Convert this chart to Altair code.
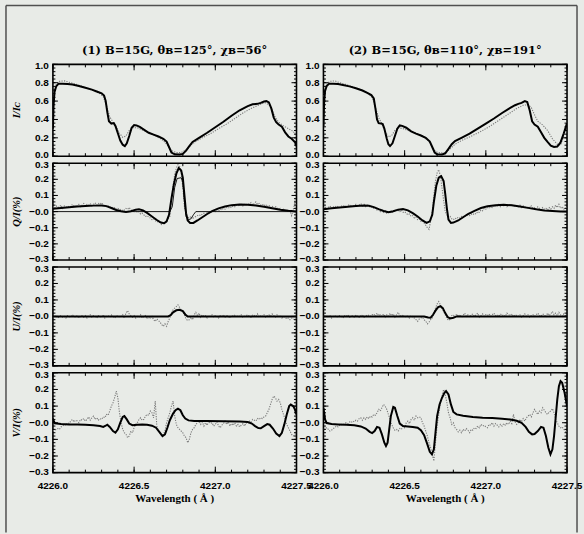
import altair as alt
import pandas as pd

# ---------------- data ----------------
X_TICKS = [4226.0, 4226.5, 4227.0, 4227.5]
X_MINOR = [round(4226.0 + 0.1 * i, 1) for i in range(16)]
I_TICKS = [0.0, 0.2, 0.4, 0.6, 0.8, 1.0]
I_MINOR = [round(0.04 * i, 2) for i in range(26)]
P_TICKS = [-0.3, -0.2, -0.1, 0.0, 0.1, 0.2, 0.3]
P_MINOR = [round(-0.3 + 0.02 * i, 2) for i in range(31)]
I_LABELS = ["0.0", "0.2", "0.4", "0.6", "0.8", "1.0"]
P_LABELS = ["\u22120.3", "\u22120.2", "\u22120.1", "\u22120.0", "0.1", "0.2", "0.3"]
X_LABELS = ["4226.0", "4226.5", "4227.0", "4227.5"]

TITLES = ["(1) B=15G, \u03b8\u0299=125\u00b0, \u03c7\u0299=56\u00b0",
          "(2) B=15G, \u03b8\u0299=110\u00b0, \u03c7\u0299=191\u00b0"]
YTITLES = ["I/I\u1d04", "Q/I(%)", "U/I(%)", "V/I(%)"]
XTITLE = "Wavelength ( \u00c5 )"
OBS_START = 4226.0
OBS_STEP = 0.01

# model (solid) curves: (wavelength, value)
I_L_MODEL = [(4226.000, 0.30), (4226.004, 0.55), (4226.010, 0.70), (4226.020, 0.76), (4226.035, 0.79),
             (4226.06, 0.79), (4226.09, 0.785), (4226.12, 0.78), (4226.16, 0.765), (4226.20, 0.745),
             (4226.24, 0.725), (4226.27, 0.705), (4226.30, 0.685), (4226.315, 0.66), (4226.325, 0.60),
             (4226.335, 0.48), (4226.345, 0.38), (4226.36, 0.355), (4226.375, 0.36), (4226.385, 0.33),
             (4226.40, 0.25), (4226.415, 0.17), (4226.43, 0.125), (4226.443, 0.11), (4226.455, 0.14),
             (4226.47, 0.22), (4226.485, 0.31), (4226.50, 0.34), (4226.515, 0.335), (4226.535, 0.32),
             (4226.56, 0.29), (4226.59, 0.255), (4226.62, 0.235), (4226.65, 0.215), (4226.68, 0.19),
             (4226.70, 0.16), (4226.715, 0.10), (4226.73, 0.04), (4226.75, 0.02), (4226.78, 0.018),
             (4226.80, 0.025), (4226.82, 0.06), (4226.84, 0.11), (4226.86, 0.155), (4226.90, 0.20),
             (4226.95, 0.255), (4227.00, 0.315), (4227.05, 0.375), (4227.10, 0.44), (4227.15, 0.50),
             (4227.20, 0.545), (4227.23, 0.565), (4227.26, 0.57), (4227.28, 0.58), (4227.30, 0.595),
             (4227.315, 0.60), (4227.33, 0.585), (4227.345, 0.52), (4227.36, 0.42), (4227.375, 0.37),
             (4227.39, 0.345), (4227.41, 0.32), (4227.43, 0.26), (4227.45, 0.215), (4227.47, 0.19),
             (4227.49, 0.155), (4227.50, 0.11)]
I_L_OBS = [(4226.00, 0.64), (4226.01, 0.72), (4226.02, 0.78), (4226.04, 0.815), (4226.07, 0.82),
           (4226.10, 0.805), (4226.14, 0.785), (4226.18, 0.76), (4226.22, 0.735), (4226.26, 0.705),
           (4226.29, 0.68), (4226.31, 0.65), (4226.33, 0.55), (4226.35, 0.43), (4226.37, 0.37),
           (4226.39, 0.32), (4226.41, 0.25), (4226.43, 0.205), (4226.45, 0.22), (4226.47, 0.28),
           (4226.49, 0.31), (4226.52, 0.31), (4226.56, 0.28), (4226.60, 0.25), (4226.64, 0.215),
           (4226.68, 0.17), (4226.71, 0.11), (4226.73, 0.06), (4226.76, 0.04), (4226.79, 0.04),
           (4226.82, 0.07), (4226.85, 0.12), (4226.88, 0.16), (4226.92, 0.20), (4226.97, 0.245),
           (4227.02, 0.30), (4227.07, 0.35), (4227.12, 0.41), (4227.17, 0.47), (4227.22, 0.52),
           (4227.26, 0.55), (4227.29, 0.575), (4227.31, 0.58), (4227.33, 0.56), (4227.35, 0.50),
           (4227.37, 0.42), (4227.39, 0.37), (4227.42, 0.33), (4227.45, 0.30), (4227.48, 0.27),
           (4227.50, 0.22)]
I_R_MODEL = [(4226.000, 0.33), (4226.004, 0.58), (4226.010, 0.71), (4226.020, 0.765), (4226.035, 0.79),
             (4226.06, 0.79), (4226.09, 0.785), (4226.12, 0.775), (4226.16, 0.76), (4226.20, 0.74),
             (4226.24, 0.715), (4226.27, 0.69), (4226.295, 0.665), (4226.31, 0.63), (4226.32, 0.52),
             (4226.33, 0.40), (4226.34, 0.36), (4226.355, 0.355), (4226.365, 0.35), (4226.375, 0.30),
             (4226.39, 0.19), (4226.40, 0.13), (4226.41, 0.11), (4226.425, 0.14), (4226.44, 0.22),
             (4226.455, 0.30), (4226.47, 0.335), (4226.485, 0.33), (4226.51, 0.31), (4226.54, 0.27),
             (4226.57, 0.245), (4226.60, 0.225), (4226.63, 0.20), (4226.655, 0.16), (4226.67, 0.10),
             (4226.685, 0.04), (4226.70, 0.02), (4226.73, 0.018), (4226.75, 0.03), (4226.77, 0.08),
             (4226.79, 0.13), (4226.81, 0.165), (4226.85, 0.20), (4226.90, 0.245), (4226.95, 0.30),
             (4227.00, 0.355), (4227.05, 0.41), (4227.10, 0.47), (4227.15, 0.525), (4227.18, 0.555),
             (4227.20, 0.57), (4227.22, 0.58), (4227.24, 0.60), (4227.255, 0.59), (4227.27, 0.50),
             (4227.285, 0.38), (4227.30, 0.345), (4227.32, 0.32), (4227.34, 0.26), (4227.36, 0.20),
             (4227.38, 0.155), (4227.40, 0.115), (4227.42, 0.10), (4227.44, 0.105), (4227.46, 0.15),
             (4227.48, 0.25), (4227.50, 0.36)]
I_R_OBS = [(4226.00, 0.65), (4226.01, 0.73), (4226.02, 0.785), (4226.04, 0.815), (4226.07, 0.82),
           (4226.10, 0.80), (4226.14, 0.78), (4226.18, 0.755), (4226.22, 0.73), (4226.26, 0.70),
           (4226.28, 0.675), (4226.30, 0.64), (4226.32, 0.53), (4226.34, 0.42), (4226.36, 0.35),
           (4226.38, 0.27), (4226.40, 0.21), (4226.42, 0.225), (4226.44, 0.28), (4226.46, 0.31),
           (4226.49, 0.30), (4226.53, 0.275), (4226.57, 0.25), (4226.61, 0.22), (4226.645, 0.17),
           (4226.67, 0.10), (4226.69, 0.05), (4226.72, 0.035), (4226.75, 0.04), (4226.78, 0.08),
           (4226.81, 0.13), (4226.85, 0.17), (4226.90, 0.21), (4226.96, 0.26), (4227.02, 0.32),
           (4227.08, 0.39), (4227.14, 0.46), (4227.19, 0.52), (4227.23, 0.555), (4227.26, 0.56),
           (4227.28, 0.53), (4227.30, 0.45), (4227.32, 0.38), (4227.35, 0.34), (4227.38, 0.28),
           (4227.41, 0.19), (4227.44, 0.13), (4227.46, 0.12), (4227.48, 0.22), (4227.50, 0.37)]

Q_L_MODEL = [(4226.00, 0.018), (4226.05, 0.022), (4226.10, 0.027), (4226.15, 0.031), (4226.20, 0.034),
             (4226.25, 0.037), (4226.30, 0.038), (4226.33, 0.034), (4226.36, 0.022), (4226.39, 0.010),
             (4226.42, 0.002), (4226.45, -0.002), (4226.48, 0.002), (4226.51, 0.012), (4226.53, 0.015),
             (4226.555, 0.008), (4226.58, -0.008), (4226.61, -0.03), (4226.64, -0.052), (4226.665, -0.068),
             (4226.685, -0.072), (4226.70, -0.06), (4226.715, -0.02), (4226.73, 0.08), (4226.745, 0.17),
             (4226.76, 0.235), (4226.775, 0.27), (4226.79, 0.255), (4226.80, 0.21), (4226.81, 0.10),
             (4226.82, -0.01), (4226.83, -0.055), (4226.845, -0.07), (4226.865, -0.07), (4226.89, -0.055),
             (4226.92, -0.035), (4226.95, -0.015), (4226.98, 0.003), (4227.02, 0.02), (4227.06, 0.032),
             (4227.10, 0.04), (4227.15, 0.044), (4227.20, 0.043), (4227.25, 0.038), (4227.30, 0.03),
             (4227.35, 0.021), (4227.40, 0.012), (4227.45, 0.005), (4227.50, 0.0)]
Q_L_MODEL2 = [(4226.00, 0.0), (4226.72, 0.0), (4226.735, 0.03), (4226.75, 0.15), (4226.765, 0.205),
              (4226.79, 0.21), (4226.80, 0.18), (4226.81, 0.06), (4226.82, -0.03), (4226.835, -0.05),
              (4226.85, -0.045), (4226.865, -0.02), (4226.88, 0.0), (4227.50, 0.0)]
Q_R_MODEL = [(4226.00, 0.015), (4226.05, 0.02), (4226.10, 0.025), (4226.15, 0.03), (4226.20, 0.034),
             (4226.25, 0.037), (4226.28, 0.036), (4226.31, 0.028), (4226.34, 0.015), (4226.37, 0.004),
             (4226.40, -0.004), (4226.43, 0.002), (4226.46, 0.012), (4226.49, 0.016), (4226.52, 0.008),
             (4226.55, -0.01), (4226.58, -0.03), (4226.61, -0.055), (4226.635, -0.07), (4226.655, -0.06),
             (4226.67, -0.02), (4226.68, 0.06), (4226.695, 0.16), (4226.71, 0.21), (4226.725, 0.22),
             (4226.74, 0.19), (4226.75, 0.11), (4226.76, 0.02), (4226.77, -0.05), (4226.785, -0.07),
             (4226.80, -0.068), (4226.83, -0.055), (4226.86, -0.035), (4226.89, -0.015), (4226.93, 0.005),
             (4226.97, 0.022), (4227.01, 0.033), (4227.06, 0.04), (4227.11, 0.042), (4227.16, 0.039),
             (4227.21, 0.032), (4227.26, 0.023), (4227.31, 0.014), (4227.36, 0.007), (4227.41, 0.003),
             (4227.46, 0.0), (4227.50, 0.0)]

U_L_MODEL = [(4226.00, 0.0), (4226.71, 0.0), (4226.725, 0.008), (4226.74, 0.025), (4226.76, 0.037),
             (4226.78, 0.04), (4226.80, 0.032), (4226.815, 0.012), (4226.83, 0.0), (4227.50, 0.0)]
U_R_MODEL = [(4226.00, 0.0), (4226.62, 0.0), (4226.645, -0.006), (4226.66, -0.008), (4226.675, 0.01),
             (4226.69, 0.035), (4226.705, 0.055), (4226.72, 0.062), (4226.735, 0.05), (4226.75, 0.02),
             (4226.765, -0.004), (4226.78, -0.012), (4226.80, -0.008), (4226.82, 0.0), (4227.50, 0.0)]

V_L_MODEL = [(4226.00, 0.025), (4226.005, 0.01), (4226.012, -0.003), (4226.05, -0.008), (4226.10, -0.01),
             (4226.15, -0.01), (4226.20, -0.012), (4226.25, -0.015), (4226.29, -0.02), (4226.31, -0.025),
             (4226.325, -0.018), (4226.335, -0.012), (4226.35, -0.025), (4226.37, -0.05), (4226.385, -0.06),
             (4226.40, -0.04), (4226.415, 0.0), (4226.43, 0.035), (4226.44, 0.04), (4226.455, 0.02),
             (4226.47, -0.005), (4226.49, -0.015), (4226.52, -0.012), (4226.55, -0.01), (4226.58, -0.012),
             (4226.61, -0.018), (4226.635, -0.03), (4226.655, -0.055), (4226.675, -0.08), (4226.69, -0.07),
             (4226.705, -0.03), (4226.72, 0.015), (4226.74, 0.055), (4226.755, 0.075), (4226.77, 0.085),
             (4226.785, 0.075), (4226.80, 0.045), (4226.815, 0.025), (4226.835, 0.014), (4226.87, 0.01),
             (4226.95, 0.01), (4227.05, 0.009), (4227.15, 0.007), (4227.20, 0.004), (4227.225, -0.005),
             (4227.245, -0.02), (4227.265, -0.032), (4227.28, -0.033), (4227.30, -0.02), (4227.32, -0.008),
             (4227.335, -0.012), (4227.355, -0.035), (4227.375, -0.065), (4227.395, -0.08), (4227.41, -0.06),
             (4227.425, -0.01), (4227.44, 0.05), (4227.455, 0.10), (4227.465, 0.11), (4227.48, 0.10),
             (4227.49, 0.08), (4227.50, 0.05)]
V_R_MODEL = [(4226.00, 0.09), (4226.004, 0.06), (4226.01, 0.02), (4226.02, -0.002), (4226.05, -0.008),
             (4226.09, -0.01), (4226.14, -0.012), (4226.19, -0.015), (4226.23, -0.022), (4226.26, -0.035),
             (4226.285, -0.055), (4226.30, -0.062), (4226.315, -0.05), (4226.33, -0.025), (4226.345, -0.03),
             (4226.36, -0.07), (4226.375, -0.12), (4226.385, -0.14), (4226.395, -0.12), (4226.405, -0.04),
             (4226.415, 0.04), (4226.43, 0.095), (4226.44, 0.09), (4226.455, 0.04), (4226.47, -0.005),
             (4226.49, -0.02), (4226.52, -0.022), (4226.55, -0.025), (4226.58, -0.03), (4226.60, -0.045),
             (4226.62, -0.075), (4226.64, -0.13), (4226.655, -0.175), (4226.668, -0.19), (4226.68, -0.16),
             (4226.69, -0.06), (4226.70, 0.04), (4226.715, 0.11), (4226.73, 0.15), (4226.745, 0.18),
             (4226.755, 0.19), (4226.77, 0.17), (4226.785, 0.11), (4226.80, 0.065), (4226.82, 0.05),
             (4226.86, 0.042), (4226.92, 0.035), (4226.98, 0.03), (4227.04, 0.028), (4227.10, 0.024),
             (4227.15, 0.02), (4227.19, 0.012), (4227.22, 0.0), (4227.245, -0.025), (4227.265, -0.055),
             (4227.285, -0.07), (4227.30, -0.068), (4227.32, -0.05), (4227.34, -0.025), (4227.355, -0.03),
             (4227.37, -0.08), (4227.385, -0.15), (4227.398, -0.19), (4227.41, -0.16), (4227.42, -0.08),
             (4227.43, 0.03), (4227.44, 0.14), (4227.45, 0.22), (4227.46, 0.25), (4227.47, 0.24),
             (4227.485, 0.18), (4227.50, 0.10)]

# observed (dotted) polarisation profiles, sampled every 0.01 A from 4226.00 A
Q_L_OBS = [0.03, 0.02, 0.035, 0.025, 0.03, 0.04, 0.02, 0.035, 0.03, 0.025,
           0.035, 0.03, 0.045, 0.03, 0.04, 0.035, 0.045, 0.03, 0.04, 0.05,
           0.035, 0.045, 0.04, 0.05, 0.035, 0.045, 0.055, 0.04, 0.05, 0.045,
           0.055, 0.04, 0.035, 0.03, 0.035, 0.025, 0.03, 0.02, 0.025, 0.015,
           0.02, 0.01, 0.015, 0.005, 0.01, 0.02, 0.015, 0.025, 0.01, 0.005,
           0.0, 0.01, -0.005, 0.0, -0.015, -0.01, -0.02, -0.03, -0.025, -0.035,
           -0.04, -0.05, -0.045, -0.055, -0.065, -0.06, -0.07, -0.08, -0.075, -0.07,
           -0.065, -0.045, -0.03, 0.06, 0.16, 0.23, 0.27, 0.29, 0.28, 0.24,
           0.15, 0.03, -0.02, -0.035, -0.04, -0.03, -0.045, -0.035, -0.03, -0.025,
           -0.02, -0.025, -0.015, -0.01, -0.02, -0.005, -0.01, 0.0, -0.005, 0.005,
           0.0, 0.01, 0.005, 0.015, 0.01, 0.02, 0.015, 0.025, 0.02, 0.03,
           0.025, 0.035, 0.03, 0.04, 0.035, 0.04, 0.045, 0.035, 0.045, 0.04,
           0.05, 0.045, 0.055, 0.04, 0.05, 0.06, 0.045, 0.05, 0.04, 0.045,
           0.035, 0.045, 0.03, 0.04, 0.025, 0.035, 0.02, 0.03, 0.025, 0.015,
           0.02, 0.01, 0.015, 0.005, 0.01, 0.0, 0.005, -0.025, 0.01, 0.06, 0.035]
Q_R_OBS = [0.02, 0.03, 0.015, 0.025, 0.035, 0.02, 0.03, 0.025, 0.035, 0.03,
           0.025, 0.035, 0.03, 0.04, 0.025, 0.035, 0.045, 0.03, 0.04, 0.035,
           0.045, 0.035, 0.04, 0.05, 0.035, 0.045, 0.03, 0.04, 0.035, 0.025,
           0.03, 0.02, 0.025, 0.01, 0.015, 0.0, 0.01, -0.005, 0.005, -0.01,
           -0.005, 0.0, -0.01, 0.005, 0.0, 0.01, 0.005, 0.0, 0.01, -0.005,
           0.0, -0.01, -0.02, -0.015, -0.03, -0.025, -0.04, -0.035, -0.05, -0.045,
           -0.06, -0.055, -0.07, -0.085, -0.1, -0.11, -0.06, 0.0, 0.1, 0.19,
           0.24, 0.26, 0.22, 0.15, 0.07, 0.0, -0.02, -0.035, -0.03, -0.045,
           -0.05, -0.04, -0.045, -0.035, -0.04, -0.03, -0.035, -0.025, -0.03, -0.02,
           -0.025, -0.015, -0.02, -0.01, -0.015, 0.0, -0.005, 0.01, 0.005, 0.02,
           0.015, 0.025, 0.02, 0.03, 0.025, 0.04, 0.03, 0.035, 0.045, 0.03,
           0.04, 0.035, 0.045, 0.03, 0.04, 0.035, 0.045, 0.03, 0.04, 0.035,
           0.03, 0.04, 0.025, 0.035, 0.03, 0.02, 0.03, 0.025, 0.035, 0.02,
           0.025, 0.015, 0.03, 0.02, 0.01, 0.025, 0.015, 0.02, 0.01, 0.025,
           0.015, 0.03, 0.02, 0.04, 0.025, 0.045, 0.02, 0.03, 0.015, 0.025, 0.02]
U_L_OBS = [0.0, -0.005, 0.005, -0.01, 0.0, 0.005, -0.005, 0.0, -0.01, 0.005,
           0.0, -0.005, 0.01, 0.0, -0.005, 0.005, -0.01, 0.0, 0.005, -0.005,
           0.005, -0.01, 0.0, 0.01, -0.005, 0.005, 0.0, -0.01, 0.005, 0.0,
           -0.005, 0.01, -0.01, 0.0, 0.005, -0.005, 0.01, 0.0, -0.01, 0.0,
           0.005, -0.005, 0.0, 0.01, -0.01, 0.02, 0.035, 0.015, 0.005, -0.005,
           0.005, -0.01, 0.0, -0.005, 0.01, -0.01, 0.0, 0.005, -0.015, -0.005,
           -0.01, 0.0, -0.02, -0.03, -0.015, -0.025, -0.035, -0.05, -0.06, -0.045,
           -0.06, -0.03, -0.01, 0.02, 0.04, 0.05, 0.06, 0.07, 0.055, 0.04,
           0.03, 0.01, -0.015, -0.025, -0.02, -0.005, -0.02, 0.01, 0.025, 0.005,
           0.02, -0.005, 0.01, 0.0, 0.005, -0.01, 0.005, 0.0, 0.01, -0.005,
           0.005, 0.0, -0.01, 0.005, 0.0, 0.01, -0.005, 0.005, 0.0, -0.01,
           0.005, 0.0, 0.01, -0.005, 0.005, 0.0, 0.01, -0.005, 0.0, 0.005,
           0.01, 0.0, -0.005, 0.01, 0.005, 0.0, 0.015, -0.005, 0.005, 0.0,
           0.01, -0.005, 0.005, 0.01, 0.0, 0.015, 0.005, -0.005, 0.01, 0.0,
           0.005, -0.01, 0.0, -0.005, -0.015, -0.01, -0.02, -0.01, -0.015, -0.02, -0.01]
U_R_OBS = [0.0, 0.005, -0.005, 0.0, 0.005, -0.01, 0.0, 0.005, -0.005, 0.0,
           0.005, 0.0, -0.01, 0.005, 0.0, 0.01, -0.005, 0.0, 0.005, -0.005,
           0.01, 0.0, -0.005, 0.005, 0.01, -0.005, 0.0, 0.01, 0.005, 0.0,
           0.01, 0.015, 0.0, 0.02, 0.005, 0.01, 0.0, 0.015, -0.005, 0.01,
           0.0, 0.02, 0.005, 0.015, -0.005, 0.01, 0.025, 0.005, 0.0, 0.01,
           -0.005, 0.005, 0.0, -0.01, 0.005, -0.005, -0.01, -0.02, -0.03, -0.015,
           -0.01, -0.005, -0.02, -0.03, -0.045, -0.035, -0.02, -0.01, 0.02, 0.05,
           0.075, 0.09, 0.07, 0.05, 0.03, 0.01, -0.01, -0.025, -0.015, 0.005,
           0.01, -0.005, 0.015, 0.0, 0.01, -0.005, 0.005, 0.02, 0.0, 0.01,
           -0.005, 0.01, 0.015, 0.0, 0.01, 0.02, -0.005, 0.005, 0.015, 0.0,
           0.01, 0.005, 0.015, 0.0, 0.01, 0.02, 0.005, 0.01, 0.0, 0.015,
           0.005, 0.01, 0.0, 0.02, 0.01, 0.005, 0.015, 0.0, 0.01, 0.005,
           0.0, 0.01, -0.005, 0.005, 0.015, 0.0, 0.01, -0.005, 0.005, 0.01,
           0.0, 0.01, 0.02, 0.005, 0.0, 0.015, 0.01, -0.005, 0.02, 0.005,
           0.015, 0.03, 0.01, 0.02, 0.005, 0.025, 0.01, 0.0, 0.015, 0.005, 0.01]
V_L_OBS = [-0.05, -0.045, -0.04, -0.035, -0.04, -0.025, -0.02, -0.01, -0.015, 0.0,
           -0.005, 0.01, 0.02, 0.005, 0.015, 0.01, 0.0, 0.02, 0.015, 0.025,
           0.01, 0.02, 0.035, 0.015, 0.03, 0.04, 0.02, 0.03, 0.015, 0.025,
           0.02, 0.035, 0.03, 0.05, 0.045, 0.07, 0.1, 0.12, 0.15, 0.19,
           0.15, 0.06, 0.0, -0.04, -0.06, -0.07, -0.09, -0.08, -0.05, -0.06,
           -0.03, -0.01, 0.0, 0.02, 0.03, 0.015, 0.02, 0.04, 0.05, 0.045,
           0.07, 0.06, 0.03, 0.13, -0.02, -0.05, -0.06, -0.08, -0.07, -0.05,
           0.0, 0.03, 0.06, 0.1, 0.13, 0.04, -0.01, -0.03, -0.04, -0.05,
           -0.06, -0.08, -0.09, -0.12, -0.1, -0.06, -0.04, -0.03, -0.01, 0.0,
           0.01, -0.01, 0.005, -0.02, 0.0, -0.015, 0.01, -0.005, 0.0, -0.02,
           -0.01, 0.005, -0.02, -0.03, -0.015, -0.005, 0.01, -0.01, 0.005, -0.02,
           -0.005, -0.015, 0.0, -0.02, -0.01, -0.025, -0.015, -0.005, -0.02, 0.0,
           -0.005, 0.01, 0.0, 0.02, 0.015, 0.01, 0.025, 0.02, 0.03, 0.025,
           0.035, 0.04, 0.06, 0.08, 0.11, 0.14, 0.16, 0.15, 0.13, 0.14,
           0.12, 0.08, 0.05, 0.02, -0.01, -0.03, -0.05, -0.07, -0.08, -0.07, -0.06]
V_R_OBS = [-0.04, -0.035, -0.03, -0.04, -0.05, -0.045, -0.035, -0.03, -0.02, -0.025,
           -0.015, -0.01, -0.015, -0.005, 0.0, -0.005, 0.005, 0.0, 0.01, 0.005,
           0.015, 0.01, 0.025, 0.03, 0.015, 0.03, 0.02, 0.035, 0.025, 0.04,
           0.035, 0.05, 0.045, 0.06, 0.08, 0.07, 0.09, 0.11, 0.1, 0.08,
           0.05, 0.02, -0.01, -0.03, -0.045, -0.04, -0.05, -0.035, -0.04, -0.02,
           -0.03, 0.0, 0.01, -0.005, 0.02, 0.03, 0.015, 0.04, 0.03, 0.035,
           0.03, 0.0, -0.02, -0.05, -0.08, -0.12, -0.15, -0.19, -0.23, -0.12,
           -0.02, 0.05, 0.12, 0.16, 0.2, 0.17, 0.12, 0.06, 0.03, -0.01,
           0.0, -0.03, -0.04, -0.055, -0.045, -0.06, -0.04, -0.05, -0.035, -0.045,
           -0.06, -0.04, -0.045, -0.03, -0.035, -0.02, -0.03, -0.01, -0.02, -0.015,
           -0.025, -0.03, -0.01, -0.015, 0.0, -0.02, -0.005, -0.015, -0.025, -0.01,
           -0.02, -0.005, -0.015, 0.0, -0.01, 0.01, -0.005, 0.05, 0.005, -0.01,
           0.0, 0.02, 0.005, 0.025, 0.01, 0.03, 0.04, 0.05, 0.035, 0.06,
           0.08, 0.065, 0.05, 0.07, 0.06, 0.09, 0.075, 0.06, 0.05, 0.065,
           0.07, 0.085, 0.06, 0.02, 0.0, -0.02, -0.03, -0.025, -0.04, -0.05, -0.06]

# ---------------- layout / style ----------------
W = 244
HEIGHTS = [92, 97, 99, 100]
BG = "#e8ebe7"
SANS = "Liberation Sans"
SERIF = "Liberation Serif"
TITLE_FONT = "DejaVu Serif"
OBS_COLOR = "#7a7a7a"


def pairs_df(pairs):
    return pd.DataFrame({"wl": [p[0] for p in pairs], "v": [p[1] for p in pairs]})


def grid_df(vals):
    return pd.DataFrame({"wl": [round(OBS_START + OBS_STEP * i, 2) for i in range(len(vals))], "v": vals})


PANELS = {
    (0, 0): [("obs", pairs_df(I_L_OBS)), ("model", pairs_df(I_L_MODEL))],
    (0, 1): [("obs", pairs_df(I_R_OBS)), ("model", pairs_df(I_R_MODEL))],
    (1, 0): [("obs", grid_df(Q_L_OBS)), ("thin", pairs_df(Q_L_MODEL2)), ("model", pairs_df(Q_L_MODEL))],
    (1, 1): [("obs", grid_df(Q_R_OBS)), ("model", pairs_df(Q_R_MODEL))],
    (2, 0): [("obs", grid_df(U_L_OBS)), ("model", pairs_df(U_L_MODEL))],
    (2, 1): [("obs", grid_df(U_R_OBS)), ("model", pairs_df(U_R_MODEL))],
    (3, 0): [("obs", grid_df(V_L_OBS)), ("model", pairs_df(V_L_MODEL))],
    (3, 1): [("obs", grid_df(V_R_OBS)), ("model", pairs_df(V_R_MODEL))],
}
ONE = pd.DataFrame({"a": [0]})


def make_panel(row, col):
    h = HEIGHTS[row]
    if row == 0:
        ydom, ymaj, ymin, ylabs = [0.0, 1.0], I_TICKS, I_MINOR, I_LABELS
    else:
        ydom, ymaj, ymin, ylabs = [-0.3, 0.3], P_TICKS, P_MINOR, P_LABELS
    xs = alt.Scale(domain=[X_TICKS[0], X_TICKS[-1]], nice=False, zero=False)
    ys = alt.Scale(domain=ydom, nice=False, zero=False)

    layers = []
    for kind, df in PANELS[(row, col)]:
        if kind == "obs":
            mk = alt.Chart(df).mark_line(clip=True, color=OBS_COLOR, strokeWidth=1.1,
                                         strokeDash=[1.2, 1.3])
        elif kind == "thin":
            mk = alt.Chart(df).mark_line(clip=True, color="black", strokeWidth=0.9)
        else:
            mk = alt.Chart(df).mark_line(clip=True, color="black", strokeWidth=2)
        layers.append(mk.encode(x=alt.X("wl:Q", scale=xs, axis=None),
                                y=alt.Y("v:Q", scale=ys, axis=None)))

    # inward IDL-style ticks on all four sides
    for vals, ln in ((ymaj, 5), (ymin, 2.5)):
        d = pd.DataFrame({"t": vals})
        layers.append(alt.Chart(d).mark_rule(color="black", strokeWidth=1).encode(
            y=alt.Y("t:Q", scale=ys, axis=None), x=alt.value(0), x2=alt.value(ln)))
        layers.append(alt.Chart(d).mark_rule(color="black", strokeWidth=1).encode(
            y=alt.Y("t:Q", scale=ys, axis=None), x=alt.value(W), x2=alt.value(W - ln)))
    for vals, ln in ((X_TICKS, 6), (X_MINOR, 3)):
        d = pd.DataFrame({"t": vals})
        layers.append(alt.Chart(d).mark_rule(color="black", strokeWidth=1).encode(
            x=alt.X("t:Q", scale=xs, axis=None), y=alt.value(h), y2=alt.value(h - ln)))
        layers.append(alt.Chart(d).mark_rule(color="black", strokeWidth=1).encode(
            x=alt.X("t:Q", scale=xs, axis=None), y=alt.value(0), y2=alt.value(ln)))

    # y tick labels (the top-most and bottom-most ones nudged inside, as IDL does)
    lab_style = dict(align="right", baseline="middle", font=SANS, fontSize=10,
                     fontWeight="bold", color="black")
    groups = [(ymaj[1:-1], ylabs[1:-1], 0), (ymaj[-1:], ylabs[-1:], 2), (ymaj[:1], ylabs[:1], -1)]
    for tv, tl, dy in groups:
        layers.append(alt.Chart(pd.DataFrame({"t": tv, "lab": tl})).mark_text(dy=dy, **lab_style).encode(
            y=alt.Y("t:Q", scale=ys, axis=None), x=alt.value(-4), text="lab:N"))

    # y title
    if col == 0:
        layers.append(alt.Chart(ONE).mark_text(
            angle=270, align="center", baseline="bottom", font=SERIF, fontSize=10.5,
            fontWeight="bold", fontStyle="italic", color="black"
        ).encode(x=alt.value(-31), y=alt.value(h / 2), text=alt.value(YTITLES[row])))

    # x labels + title on the bottom row
    if row == 3:
        layers.append(alt.Chart(pd.DataFrame({"t": X_TICKS, "lab": X_LABELS})).mark_text(
            align="center", baseline="top", font=SANS, fontSize=10, fontWeight="bold", color="black"
        ).encode(x=alt.X("t:Q", scale=xs, axis=None), y=alt.value(h + 8), text="lab:N"))
        layers.append(alt.Chart(ONE).mark_text(
            align="center", baseline="top", font=SERIF, fontSize=11, fontWeight="bold", color="black"
        ).encode(x=alt.value(W / 2), y=alt.value(h + 20), text=alt.value(XTITLE)))

    # panel titles on the top row
    if row == 0:
        layers.append(alt.Chart(ONE).mark_text(
            align="center", baseline="alphabetic", font=TITLE_FONT, fontSize=11.5,
            fontWeight="bold", color="black"
        ).encode(x=alt.value(W / 2), y=alt.value(-10), text=alt.value(TITLES[col])))

    # outer frame of the figure
    if row == 0 and col == 0:
        fr = dict(color="#505050", strokeWidth=1.5)
        layers.append(alt.Chart(ONE).mark_rule(**fr).encode(
            x=alt.value(-47), x2=alt.value(525), y=alt.value(-59)))
        layers.append(alt.Chart(ONE).mark_rule(**fr).encode(
            x=alt.value(-47), y=alt.value(-59), y2=alt.value(469)))
        layers.append(alt.Chart(ONE).mark_rule(**fr).encode(
            x=alt.value(525), y=alt.value(-59), y2=alt.value(469)))

    return alt.layer(*layers).properties(width=W, height=h)


panels = [make_panel(r, c) for r in range(4) for c in range(2)]

chart = alt.concat(*panels, columns=2, spacing={"row": 7, "column": 27}, bounds="flush",
                   padding={"left": 4, "top": 3, "right": 0, "bottom": 0}).configure(
    background=BG
).configure_view(
    stroke="black", strokeWidth=1.6
)

chart.save("out.html", embed_options={"renderer": "svg", "actions": False})
